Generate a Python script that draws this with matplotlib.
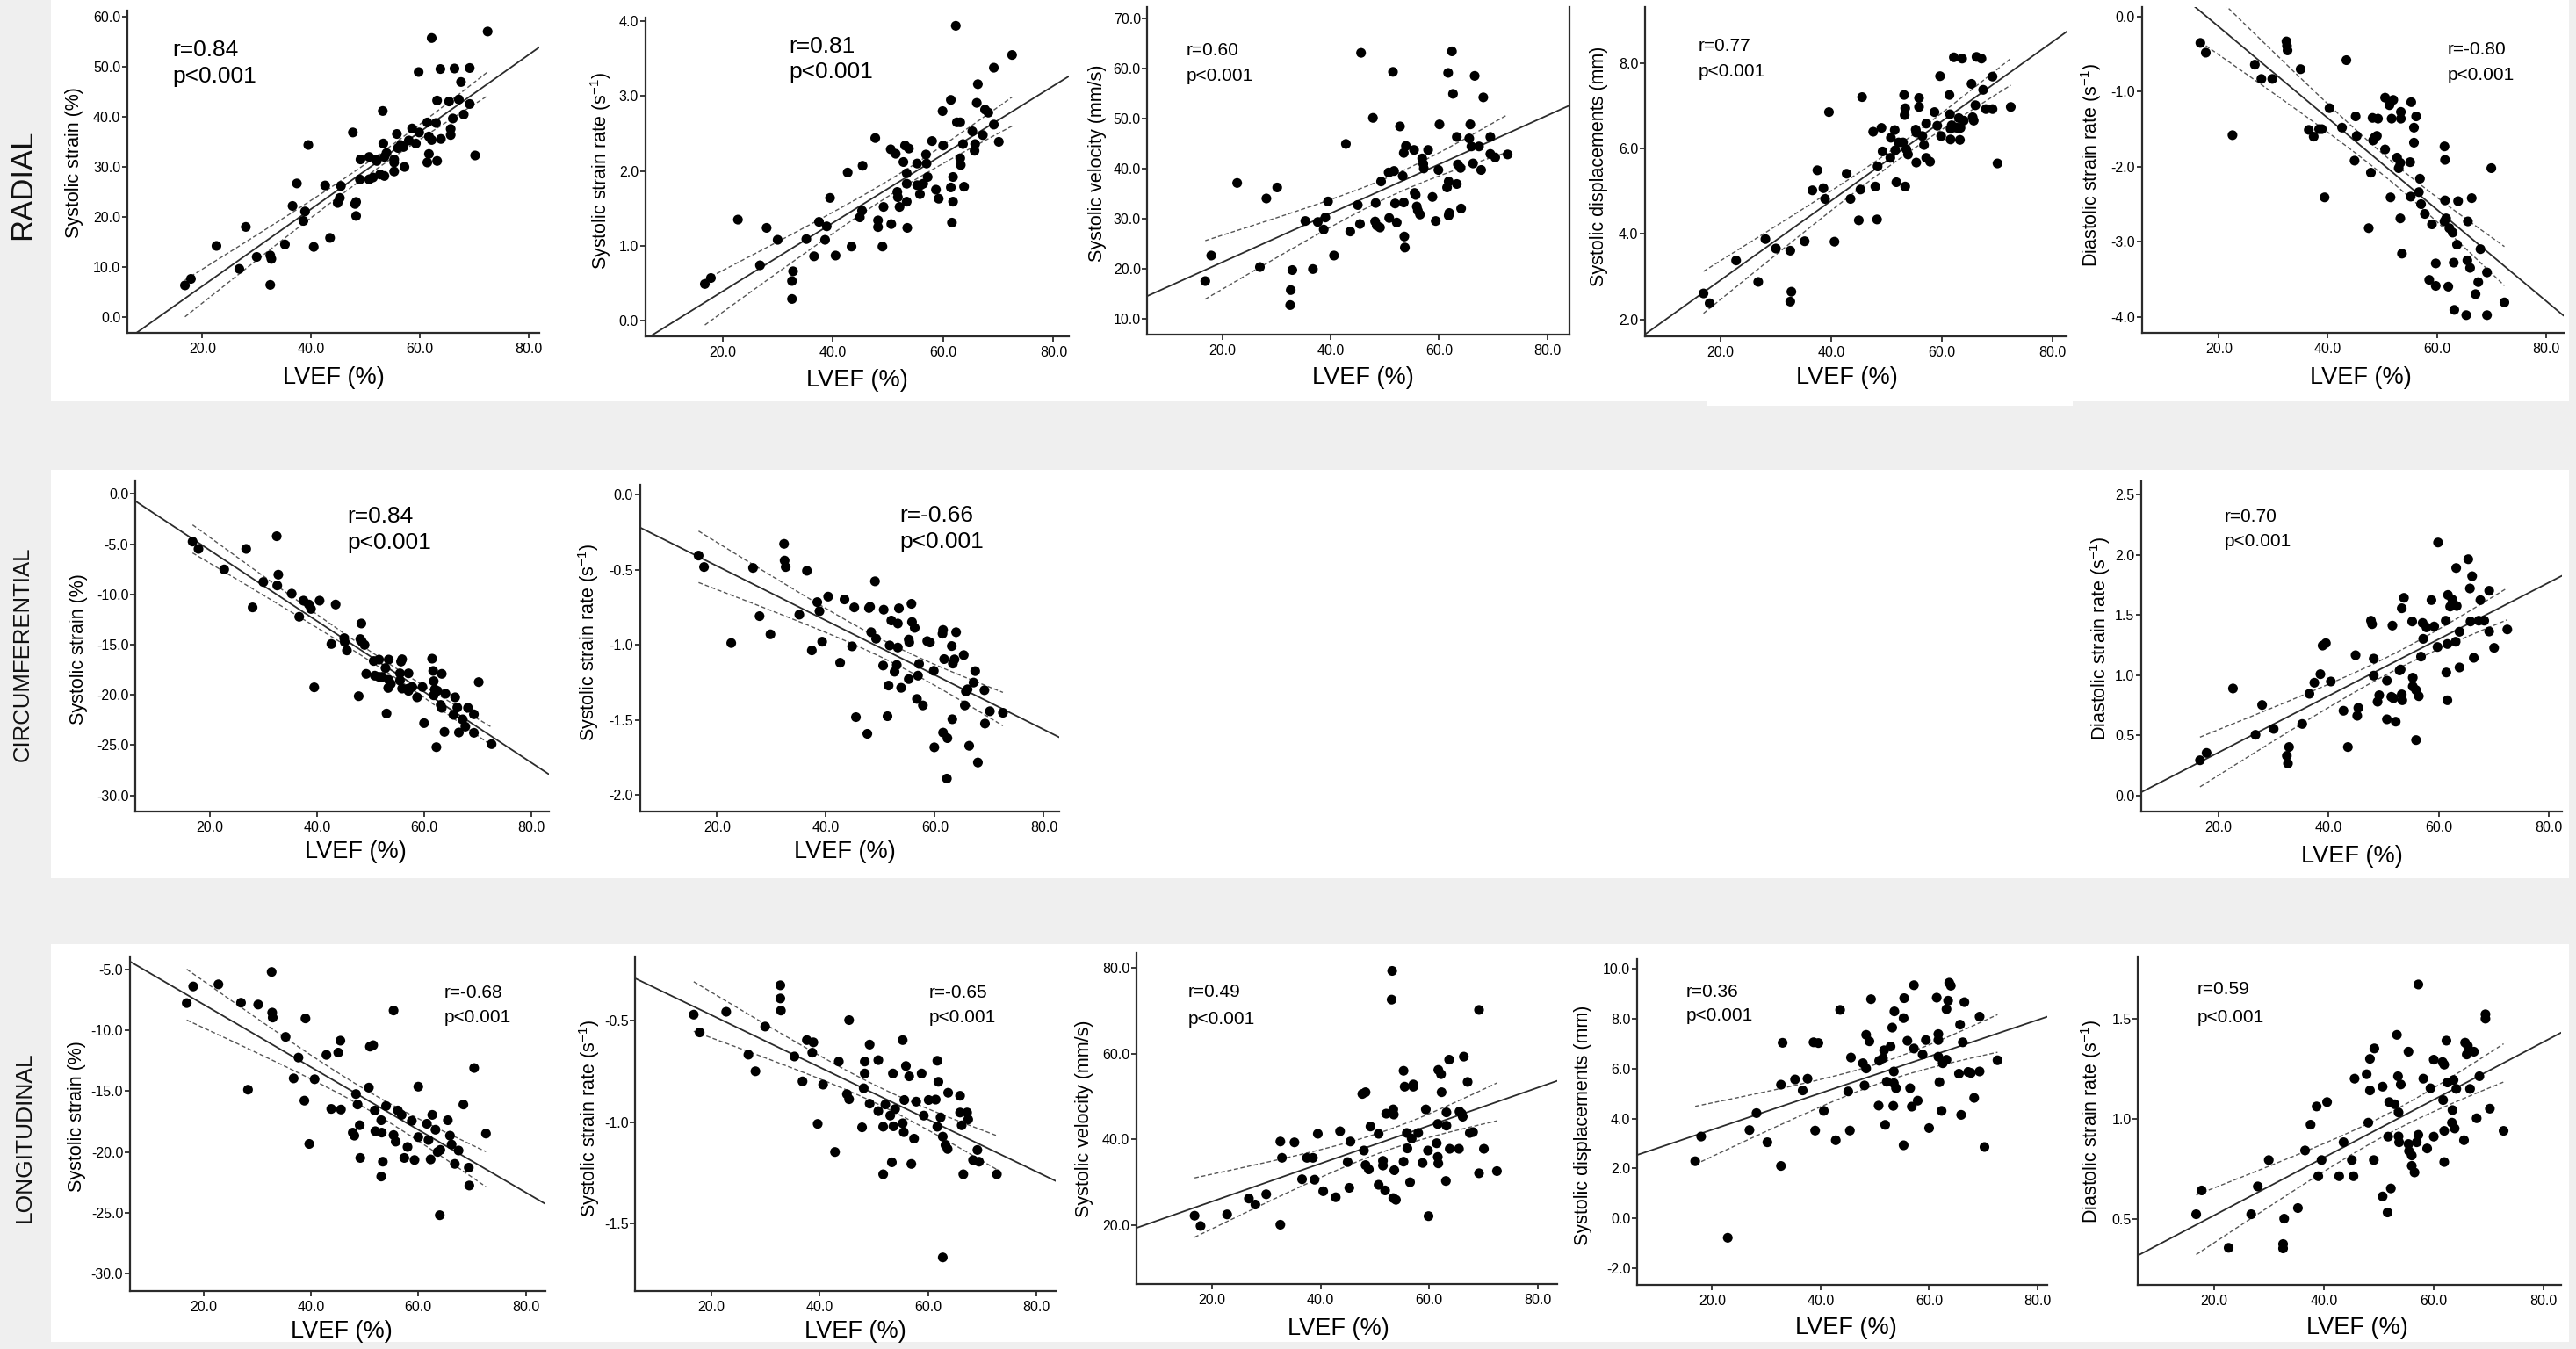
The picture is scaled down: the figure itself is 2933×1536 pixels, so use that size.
import matplotlib
matplotlib.use('Agg')
import matplotlib.pyplot as plt
import numpy as np
from matplotlib.patches import Rectangle
from matplotlib.ticker import FuncFormatter

plt.rcParams['font.family'] = ['Liberation Sans', 'DejaVu Sans']
plt.rcParams['mathtext.fontset'] = 'custom'
plt.rcParams['mathtext.rm'] = 'Liberation Sans'
plt.rcParams['mathtext.it'] = 'Liberation Sans:italic'

# ---------------- data (LVEF %, parameter) ----------------
rad_strain = [(16.8,6.3),(17.9,7.6),(22.6,14.2),(26.8,9.6),(28.0,18.0),(30.0,12.0),(32.5,12.3),(32.7,11.6),(32.5,6.4),(35.2,14.5),(36.6,22.2),(37.4,26.7),(38.9,21.1),(38.6,19.2),(39.5,34.4),(40.5,14.0),(42.6,26.3),(43.5,15.8),(44.9,22.8),(45.3,23.8),(45.5,26.2),(47.7,36.9),(48.3,23.0),(48.1,22.6),(48.3,20.2),(49.1,31.5),(49.0,27.5),(50.7,32.0),(50.7,27.5),(51.4,27.9),(51.9,31.5),(52.1,31.2),(52.7,28.5),(53.2,41.2),(53.3,34.7),(53.5,28.2),(53.5,32.0),(53.9,32.8),(55.3,29.1),(55.3,31.5),(55.3,30.9),(55.8,36.6),(56.0,33.8),(56.5,34.4),(57.0,34.0),(57.2,30.0),(58.0,35.3),(58.6,37.7),(59.3,34.7),(59.8,49.0),(59.9,36.9),(61.4,38.9),(61.4,30.9),(61.7,32.6),(61.7,36.1),(62.2,55.8),(62.2,35.4),(63.0,38.8),(63.2,43.3),(63.2,31.2),(63.8,49.6),(63.9,35.6),(65.4,43.1),(65.7,37.6),(65.7,36.4),(66.1,39.7),(66.4,49.7),(67.2,43.5),(67.6,47.0),(68.1,40.5),(69.2,49.8),(69.2,42.6),(70.2,32.3),(72.5,57.1)]

rad_srate = [(16.8,0.49),(17.9,0.57),(22.8,1.35),(26.8,0.74),(28.0,1.24),(30.0,1.08),(32.6,0.29),(32.6,0.53),(32.8,0.66),(35.2,1.09),(36.6,0.86),(37.5,1.32),(38.9,1.26),(38.6,1.08),(39.5,1.64),(40.5,0.87),(42.7,1.98),(43.4,0.99),(44.9,1.38),(45.3,1.47),(45.4,2.07),(47.7,2.44),(48.2,1.34),(48.2,1.25),(49.0,0.99),(49.2,1.52),(50.5,2.29),(50.6,1.29),(51.4,2.23),(51.7,1.72),(51.8,1.65),(52.1,1.52),(52.8,2.12),(53.1,2.34),(53.4,1.97),(53.4,1.83),(53.4,1.59),(53.5,1.24),(53.8,2.30),(55.3,2.10),(55.3,1.81),(55.8,1.69),(55.9,1.81),(56.4,1.83),(56.9,2.22),(57.0,2.10),(57.2,1.92),(58.0,2.40),(58.7,1.75),(59.2,1.63),(59.9,2.80),(60.0,2.34),(61.4,2.95),(61.4,1.78),(61.8,1.92),(61.8,1.59),(61.6,1.31),(62.3,3.94),(62.5,2.65),(63.1,2.65),(63.1,2.17),(63.2,2.08),(63.6,2.36),(63.8,1.79),(65.3,2.53),(65.7,2.27),(65.8,2.36),(66.1,2.91),(66.3,3.16),(67.2,2.48),(67.6,2.82),(68.2,2.78),(69.2,3.38),(69.2,2.62),(70.1,2.39),(72.5,3.55)]

rad_vel = [(16.8,17.5),(17.9,22.6),(22.7,37.1),(26.9,20.3),(28.1,34.0),(30.1,36.2),(32.5,12.7),(32.6,15.7),(32.9,19.7),(35.3,29.5),(36.7,19.9),(37.6,29.3),(38.7,27.8),(39.0,30.2),(39.5,33.4),(40.6,22.6),(42.8,44.9),(43.6,27.4),(45.0,32.7),(45.4,28.9),(45.6,63.1),(47.8,50.1),(48.3,33.1),(48.2,29.4),(48.5,28.6),(49.1,28.2),(49.3,37.4),(50.8,30.1),(50.7,39.2),(51.5,59.3),(51.7,39.5),(51.9,33.0),(52.2,29.2),(52.8,48.4),(53.3,38.5),(53.5,43.1),(53.5,33.2),(53.6,26.4),(53.7,24.2),(53.9,44.5),(55.4,43.7),(55.5,35.1),(55.7,34.7),(55.9,32.4),(56.1,31.6),(56.5,30.8),(56.9,42.0),(57.1,40.9),(57.2,40.0),(58.0,43.7),(58.8,34.3),(59.4,29.5),(59.9,39.7),(60.1,48.8),(61.5,36.2),(61.7,59.1),(61.8,37.4),(61.8,30.6),(61.9,31.1),(62.4,63.4),(62.6,54.9),(63.3,46.3),(63.3,36.9),(63.5,40.8),(64.0,40.1),(64.1,32.0),(65.6,46.0),(65.8,48.8),(66.0,44.4),(66.3,41.0),(66.6,58.5),(67.4,44.4),(67.8,39.7),(68.2,54.2),(69.5,46.3),(69.5,42.9),(70.4,42.2),(72.7,42.8)]

rad_disp = [(16.9,2.61),(18.0,2.38),(22.8,3.38),(26.8,2.88),(28.1,3.88),(30.0,3.66),(32.6,3.61),(32.8,2.65),(32.6,2.42),(35.2,3.83),(36.6,5.02),(37.5,5.49),(38.6,5.07),(38.9,4.82),(39.6,6.85),(40.6,3.82),(42.8,5.41),(43.5,4.82),(45.0,4.32),(45.3,5.04),(45.6,7.20),(47.6,6.39),(48.0,5.11),(48.4,5.58),(48.3,4.34),(49.1,6.48),(49.3,5.93),(50.7,5.78),(50.8,6.25),(51.5,6.43),(51.6,5.96),(51.8,5.21),(52.2,6.14),(53.0,6.14),(53.2,7.25),(53.3,6.78),(53.4,6.94),(53.4,5.11),(53.6,5.98),(53.9,5.86),(55.3,6.44),(55.4,6.37),(55.4,5.67),(55.9,7.18),(55.9,6.97),(56.5,6.29),(56.8,6.08),(57.2,6.58),(57.2,5.78),(57.9,5.69),(58.7,6.85),(59.2,6.53),(59.7,7.69),(59.9,6.29),(61.4,7.25),(61.5,6.80),(61.6,6.46),(61.6,6.21),(61.8,6.54),(62.2,8.13),(62.5,6.49),(62.9,6.48),(63.1,6.71),(63.3,6.20),(63.4,6.48),(63.7,8.10),(64.0,6.65),(65.4,7.51),(65.6,6.73),(65.8,6.65),(66.1,7.01),(66.3,8.14),(67.2,8.10),(67.5,7.37),(68.0,6.92),(69.2,7.68),(69.2,6.92),(70.1,5.65),(72.5,6.97)]

rad_dsr = [(16.6,-0.35),(17.6,-0.48),(22.5,-1.58),(26.6,-0.64),(27.8,-0.83),(29.8,-0.83),(32.4,-0.33),(32.5,-0.39),(32.6,-0.45),(35.0,-0.70),(36.5,-1.51),(37.4,-1.60),(38.4,-1.50),(38.9,-1.50),(39.4,-2.41),(40.3,-1.22),(42.6,-1.48),(43.4,-0.58),(44.9,-1.92),(45.1,-1.33),(45.3,-1.59),(47.5,-2.82),(47.9,-2.08),(48.2,-1.35),(48.3,-1.65),(48.6,-1.61),(49.0,-1.59),(49.2,-1.36),(50.5,-1.77),(50.5,-1.08),(51.3,-1.18),(51.5,-2.41),(51.7,-1.36),(52.0,-1.11),(52.7,-1.88),(53.0,-2.02),(53.3,-1.95),(53.3,-2.69),(53.4,-1.27),(53.4,-1.36),(53.6,-3.16),(55.1,-1.94),(55.2,-2.40),(55.3,-1.14),(55.8,-1.48),(55.8,-1.68),(56.2,-1.33),(56.7,-2.34),(56.9,-2.16),(57.1,-2.50),(57.8,-2.63),(58.6,-3.51),(59.1,-2.77),(59.8,-3.29),(59.8,-3.59),(61.4,-1.73),(61.5,-1.91),(61.4,-2.73),(61.5,-2.45),(61.7,-2.69),(62.1,-3.60),(62.3,-2.82),(62.9,-2.88),(63.1,-3.28),(63.2,-3.91),(63.7,-3.04),(63.9,-2.46),(65.4,-3.98),(65.6,-3.25),(65.7,-2.73),(66.1,-3.35),(66.4,-2.42),(67.1,-3.70),(67.6,-3.54),(68.0,-3.10),(69.2,-3.41),(69.2,-3.98),(70.0,-2.02),(72.4,-3.81)]

circ_strain = [(16.8,-4.75),(17.9,-5.48),(22.7,-7.52),(26.8,-5.48),(28.0,-11.30),(30.0,-8.77),(32.5,-4.22),(32.6,-9.12),(32.8,-8.04),(35.3,-9.93),(36.7,-12.23),(37.5,-10.63),(38.5,-11.01),(38.9,-11.45),(39.5,-19.25),(40.5,-10.63),(42.7,-14.94),(43.5,-11.01),(45.1,-14.36),(45.2,-14.74),(45.6,-15.58),(47.8,-20.13),(48.3,-12.90),(48.1,-14.45),(48.4,-14.71),(48.9,-15.03),(49.2,-17.91),(50.6,-16.63),(50.8,-18.09),(51.6,-16.49),(51.6,-18.21),(52.2,-18.21),(52.8,-17.33),(53.0,-21.85),(53.3,-19.31),(53.4,-16.49),(53.4,-18.50),(53.8,-18.90),(55.5,-17.86),(55.5,-18.58),(55.7,-16.69),(55.9,-16.46),(55.9,-19.37),(57.1,-19.37),(57.1,-17.86),(57.1,-19.60),(57.8,-19.22),(58.7,-20.24),(59.7,-19.22),(60.0,-22.81),(61.5,-16.40),(61.7,-17.62),(61.8,-18.64),(61.8,-20.04),(62.0,-19.46),(62.3,-25.20),(62.5,-19.60),(63.1,-21.00),(63.3,-17.91),(63.3,-21.29),(63.8,-23.68),(64.0,-19.89),(65.5,-21.99),(65.8,-20.24),(66.2,-21.26),(66.5,-23.74),(67.2,-22.43),(67.7,-23.16),(68.2,-21.29),(69.3,-21.93),(69.3,-23.77),(70.2,-18.73),(72.6,-24.90)]

circ_srate = [(16.6,-0.405),(17.6,-0.481),(22.6,-0.987),(26.6,-0.487),(27.8,-0.808),(29.8,-0.929),(32.3,-0.327),(32.4,-0.438),(32.6,-0.481),(35.1,-0.798),(36.5,-0.506),(37.4,-1.036),(38.4,-0.715),(38.8,-0.775),(39.3,-0.978),(40.4,-0.678),(42.6,-1.118),(43.4,-0.697),(44.8,-1.009),(45.2,-0.750),(45.5,-1.480),(47.6,-1.591),(47.9,-0.754),(48.1,-0.746),(48.3,-0.915),(49.0,-0.576),(49.2,-0.958),(50.5,-1.137),(50.6,-0.765),(51.3,-1.474),(51.5,-1.270),(51.7,-1.003),(52.0,-0.837),(52.6,-1.178),(53.0,-1.133),(53.2,-0.857),(53.2,-1.017),(53.4,-0.756),(53.8,-1.285),(55.2,-1.227),(55.2,-0.964),(55.3,-0.983),(55.7,-0.726),(55.8,-0.847),(56.3,-0.886),(56.7,-1.359),(56.9,-1.204),(57.1,-1.126),(57.8,-1.402),(58.6,-0.974),(59.1,-0.983),(59.8,-1.172),(59.9,-1.681),(61.4,-0.925),(61.5,-0.900),(61.5,-1.583),(61.7,-1.094),(62.3,-1.620),(62.2,-1.889),(63.1,-1.007),(63.2,-1.494),(63.3,-1.124),(63.6,-1.096),(63.9,-0.915),(65.3,-1.067),(65.5,-1.402),(65.7,-1.309),(66.0,-1.295),(66.3,-1.671),(67.1,-1.250),(67.4,-1.174),(67.9,-1.782),(69.1,-1.301),(69.2,-1.523),(70.1,-1.441),(72.5,-1.451)]

circ_dsr = [(16.6,0.292),(17.8,0.353),(22.6,0.889),(26.7,0.504),(27.9,0.752),(30.0,0.553),(32.4,0.329),(32.6,0.265),(32.8,0.402),(35.2,0.594),(36.5,0.845),(37.4,0.937),(38.5,1.008),(38.9,1.246),(39.5,1.266),(40.4,0.947),(42.7,0.704),(43.5,0.402),(44.9,1.166),(45.4,0.728),(45.2,0.662),(47.7,1.453),(47.9,1.424),(48.2,1.137),(48.2,0.996),(48.9,0.779),(49.2,0.833),(50.6,0.954),(50.6,0.633),(51.4,0.820),(51.6,1.412),(51.8,0.808),(52.2,0.613),(52.9,1.039),(53.1,1.047),(53.3,1.556),(53.3,0.840),(53.4,0.791),(53.7,1.643),(55.2,1.446),(55.3,0.979),(55.3,0.906),(55.9,0.460),(55.9,0.876),(56.4,0.825),(56.8,1.154),(57.1,1.434),(57.2,1.302),(57.8,1.397),(58.7,1.624),(59.2,1.405),(59.8,1.234),(59.9,2.103),(61.3,1.453),(61.4,1.022),(61.6,0.791),(61.6,1.259),(61.7,1.667),(62.1,1.570),(62.5,1.628),(63.1,1.278),(63.2,1.891),(63.3,1.575),(63.8,1.361),(63.8,1.064),(65.4,1.964),(65.7,1.721),(65.8,1.446),(66.1,1.823),(66.4,1.144),(67.3,1.453),(67.6,1.624),(68.3,1.453),(69.2,1.702),(69.2,1.363),(70.1,1.227),(72.5,1.380)]

long_strain = [(16.9,-7.76),(18.1,-6.39),(22.8,-6.22),(27.0,-7.73),(28.3,-14.88),(30.2,-7.88),(32.7,-5.20),(32.8,-8.54),(32.9,-8.95),(35.3,-10.54),(36.8,-13.95),(37.7,-12.24),(38.8,-15.78),(39.0,-9.02),(39.7,-19.34),(40.7,-14.02),(42.9,-12.02),(43.8,-16.46),(45.1,-11.83),(45.5,-10.85),(45.6,-16.51),(47.8,-18.41),(48.1,-18.66),(48.4,-15.24),(48.7,-16.10),(49.1,-17.80),(49.2,-20.49),(50.8,-14.71),(51.0,-11.34),(51.6,-11.22),(51.9,-16.59),(52.0,-18.29),(53.1,-17.39),(53.2,-18.41),(53.4,-20.80),(53.1,-22.02),(54.0,-16.22),(55.4,-8.37),(55.4,-18.61),(55.8,-19.15),(56.2,-16.59),(56.9,-16.95),(57.4,-20.49),(58.0,-19.59),(58.8,-17.44),(59.3,-20.66),(60.0,-14.63),(60.0,-18.78),(61.6,-17.68),(61.9,-19.02),(62.3,-20.61),(62.6,-16.95),(63.2,-18.17),(63.6,-20.00),(64.0,-25.20),(64.1,-19.83),(65.5,-17.39),(65.9,-18.66),(66.2,-19.39),(66.8,-20.98),(67.5,-19.88),(68.4,-16.10),(69.4,-21.29),(69.5,-22.76),(70.4,-13.10),(72.6,-18.49)]

long_srate = [(16.7,-0.469),(17.8,-0.557),(22.7,-0.455),(26.8,-0.667),(28.1,-0.749),(29.9,-0.528),(32.7,-0.324),(32.7,-0.389),(32.8,-0.449),(35.3,-0.676),(36.8,-0.799),(37.6,-0.595),(38.8,-0.606),(38.6,-0.657),(39.6,-1.009),(40.6,-0.815),(42.8,-1.148),(43.5,-0.701),(45.0,-0.862),(45.4,-0.887),(45.4,-0.496),(47.8,-1.026),(48.1,-0.833),(48.3,-0.760),(48.3,-0.701),(49.2,-0.909),(49.2,-0.617),(50.8,-0.694),(50.8,-0.946),(51.7,-1.023),(51.7,-1.258),(52.1,-0.913),(53.0,-0.968),(53.3,-1.199),(53.5,-0.760),(53.6,-1.021),(53.9,-0.936),(55.3,-0.595),(55.3,-1.006),(55.5,-1.050),(55.6,-0.891),(55.9,-0.723),(56.5,-0.774),(56.9,-1.207),(57.4,-1.082),(57.8,-0.899),(58.8,-0.760),(59.2,-0.968),(60.1,-0.891),(61.4,-0.889),(61.7,-1.023),(61.7,-0.697),(61.9,-0.801),(62.3,-0.977),(62.7,-1.669),(62.7,-1.072),(63.2,-1.114),(63.6,-1.133),(63.7,-0.855),(65.9,-0.870),(65.9,-0.953),(66.2,-1.016),(66.5,-1.258),(67.2,-0.953),(67.4,-0.987),(68.3,-1.188),(69.1,-1.138),(69.4,-1.196),(72.7,-1.258)]

long_vel = [(16.8,22.2),(17.9,19.8),(22.8,22.5),(26.8,26.2),(28.0,24.8),(30.0,27.2),(32.6,20.1),(32.6,39.5),(32.9,35.7),(35.2,39.3),(36.6,30.7),(37.5,35.7),(38.6,35.7),(38.9,30.6),(39.5,41.3),(40.5,27.9),(42.8,26.5),(43.6,41.9),(45.0,34.7),(45.3,28.7),(45.5,39.5),(47.7,50.6),(48.0,37.4),(48.3,51.0),(48.3,34.0),(48.9,33.0),(49.2,43.0),(50.7,29.4),(50.7,41.3),(51.5,35.0),(51.5,33.9),(51.9,28.1),(52.1,46.0),(53.1,72.6),(53.2,79.3),(53.4,47.0),(53.5,45.8),(53.6,32.8),(53.4,26.3),(53.9,25.9),(55.3,56.0),(55.5,52.3),(55.3,34.8),(55.9,41.5),(56.0,37.9),(56.5,30.0),(56.8,40.2),(57.1,52.8),(57.1,52.3),(58.0,41.5),(58.8,34.5),(59.4,47.0),(59.8,37.4),(59.9,22.1),(61.4,39.1),(61.6,43.6),(61.6,35.9),(61.7,34.4),(61.7,56.2),(62.2,55.2),(62.3,51.0),(63.1,30.3),(63.2,43.2),(63.2,46.3),(63.7,58.6),(63.8,37.8),(65.5,37.8),(65.6,46.5),(66.0,46.0),(66.2,45.3),(66.4,59.3),(67.1,53.4),(67.5,41.5),(68.1,41.7),(69.2,70.2),(69.2,32.1),(70.1,37.8),(72.5,32.6)]

long_disp = [(16.9,2.29),(18.0,3.28),(22.9,-0.78),(26.9,3.54),(28.2,4.22),(30.2,3.05),(32.7,5.36),(32.7,2.10),(33.0,7.04),(35.3,5.57),(36.7,5.13),(37.6,5.60),(38.7,7.06),(39.0,3.52),(39.6,7.03),(40.6,4.31),(42.8,3.13),(43.6,8.36),(45.1,5.09),(45.4,3.52),(45.6,6.45),(47.8,6.22),(48.1,5.33),(48.4,7.36),(48.4,6.01),(49.0,7.10),(49.3,8.79),(50.7,4.52),(50.8,6.32),(51.5,6.42),(51.7,6.74),(51.9,3.75),(52.2,5.48),(52.9,6.89),(53.2,7.65),(53.4,4.51),(53.5,5.89),(53.6,8.30),(53.5,5.42),(53.9,5.22),(55.3,2.93),(55.3,8.03),(55.4,8.83),(56.0,7.12),(56.5,5.22),(56.8,4.48),(57.2,6.81),(57.2,9.35),(57.9,4.72),(58.8,6.57),(59.4,7.15),(60.0,3.62),(61.4,8.85),(61.7,6.48),(61.7,7.39),(61.7,7.15),(61.9,5.46),(62.3,4.31),(62.5,6.22),(63.2,8.39),(63.2,6.36),(63.5,8.73),(63.7,9.45),(64.0,9.33),(65.5,5.80),(65.7,7.77),(65.9,4.15),(66.2,7.06),(66.5,8.67),(67.2,5.87),(67.7,5.83),(68.3,4.83),(69.3,5.89),(69.3,8.09),(70.2,2.86),(72.6,6.34)]

long_dsr = [(16.8,0.522),(17.8,0.641),(22.7,0.354),(26.8,0.522),(28.0,0.661),(30.0,0.793),(32.6,0.373),(32.6,0.351),(32.8,0.500),(35.3,0.553),(36.6,0.841),(37.6,0.970),(38.7,1.061),(39.0,0.712),(39.6,0.793),(40.6,1.083),(42.8,0.712),(43.6,0.882),(45.1,0.793),(45.4,0.712),(45.6,1.200),(47.8,1.222),(48.1,0.980),(48.4,1.299),(48.4,1.141),(49.1,0.793),(49.2,1.351),(50.7,0.611),(50.7,1.160),(51.6,0.531),(51.7,0.910),(51.9,1.083),(52.2,0.651),(52.9,1.072),(53.3,1.419),(53.5,1.212),(53.6,1.031),(53.6,0.911),(53.7,0.882),(54.0,1.171),(55.4,1.335),(55.4,0.873),(55.5,0.838),(56.0,0.816),(56.0,0.764),(56.5,0.731),(56.9,0.882),(57.2,0.919),(57.2,1.671),(58.1,1.200),(58.8,0.851),(59.4,1.152),(60.0,1.295),(60.0,0.910),(61.6,1.283),(61.7,1.093),(61.9,1.270),(61.9,0.939),(61.9,0.783),(62.3,1.390),(62.5,1.181),(63.3,0.980),(63.4,1.043),(63.6,1.193),(63.8,0.951),(64.1,1.149),(65.5,0.892),(65.7,1.380),(66.0,1.321),(66.2,1.364),(66.6,1.149),(67.3,1.335),(67.8,1.002),(68.3,1.212),(69.4,1.522),(69.4,1.500),(70.2,1.050),(72.7,0.939)]

row_labels = ['RADIAL', 'CIRCUMFERENTIAL', 'LONGITUDINAL']
x_ticks = [20, 40, 60, 80]
x_label = 'LVEF (%)'

SR = 'rate (s$^{-1}$)'
panels = [
    dict(data=rad_strain, ylabel='Systolic strain (%)', r='r=0.84', yt=[0, 10, 20, 30, 40, 50, 60]),
    dict(data=rad_srate, ylabel='Systolic strain ' + SR, r='r=0.81', yt=[0, 1, 2, 3, 4]),
    dict(data=rad_vel, ylabel='Systolic velocity (mm/s)', r='r=0.60', yt=[10, 20, 30, 40, 50, 60, 70]),
    dict(data=rad_disp, ylabel='Systolic displacements (mm)', r='r=0.77', yt=[2, 4, 6, 8]),
    dict(data=rad_dsr, ylabel='Diastolic strain ' + SR, r='r=-0.80', yt=[0, -1, -2, -3, -4]),
    dict(data=circ_strain, ylabel='Systolic strain (%)', r='r=0.84', yt=[0, -5, -10, -15, -20, -25, -30]),
    dict(data=circ_srate, ylabel='Systolic strain ' + SR, r='r=-0.66', yt=[0, -0.5, -1.0, -1.5, -2.0]),
    dict(data=circ_dsr, ylabel='Diastolic strain ' + SR, r='r=0.70', yt=[0, 0.5, 1.0, 1.5, 2.0, 2.5]),
    dict(data=long_strain, ylabel='Systolic strain (%)', r='r=-0.68', yt=[-5, -10, -15, -20, -25, -30]),
    dict(data=long_srate, ylabel='Systolic strain ' + SR, r='r=-0.65', yt=[-0.5, -1.0, -1.5]),
    dict(data=long_vel, ylabel='Systolic velocity (mm/s)', r='r=0.49', yt=[20, 40, 60, 80]),
    dict(data=long_disp, ylabel='Systolic displacements (mm)', r='r=0.36', yt=[-2, 0, 2, 4, 6, 8, 10]),
    dict(data=long_dsr, ylabel='Diastolic strain ' + SR, r='r=0.59', yt=[0.5, 1.0, 1.5]),
]
p_text = 'p<0.001'

# ---------------- layout (pixel geometry of the reference) ----------------
W, H = 2933, 1536
BIG, MED = 19, 15
layout = [
    ((145, 12, 614, 379), (6.2, 82), (-3.2, 61.3), 0.109, 0.877, 0.796, BIG, (-0.128, 0.529), (0.5, -0.139), False),
    ((734.7, 20, 1217, 383), (6.0, 82.8), (-0.21, 4.05), 0.340, 0.908, 0.830, BIG, (-0.106, 0.52), (0.5, -0.138), False),
    ((1306.4, 8.3, 1786.8, 381), (6.1, 84.1), (6.8, 72.2), 0.093, 0.869, 0.791, MED, (-0.119, 0.523), (0.51, -0.131), True),
    ((1872.9, 8.3, 2353, 383.3), (6.3, 82.6), (1.6, 9.3), 0.127, 0.882, 0.806, MED, (-0.110, 0.518), (0.48, -0.125), False),
    ((2438.6, 8.3, 2918.5, 379.3), (5.85, 83.2), (-4.22, 0.125), 0.725, 0.871, 0.793, MED, (-0.119, 0.516), (0.52, -0.137), False),
    ((154, 546.7, 625, 924), (6.1, 83.3), (-31.6, 1.36), 0.513, 0.890, 0.810, BIG, (-0.138, 0.49), (0.533, -0.122), False),
    ((728.7, 551.7, 1206.4, 924.3), (5.84, 82.9), (-2.11, 0.068), 0.618, 0.906, 0.826, BIG, (-0.123, 0.519), (0.488, -0.123), False),
    ((2437.9, 548.3, 2917.4, 924), (5.9, 82.5), (-0.134, 2.61), 0.197, 0.894, 0.818, MED, (-0.098, 0.524), (0.5, -0.136), False),
    ((147.8, 1088.7, 620.6, 1469.5), (6.3, 83.6), (-31.4, -3.9), 0.757, 0.889, 0.818, MED, (-0.128, 0.52), (0.51, -0.122), False),
    ((723.3, 1088.7, 1201.6, 1469.5), (5.9, 83.5), (-1.833, -0.18), 0.699, 0.889, 0.818, MED, (-0.110, 0.514), (0.524, -0.122), False),
    ((1294, 1085, 1773, 1462.3), (6.1, 83.6), (6.2, 83.5), 0.122, 0.883, 0.801, MED, (-0.125, 0.5), (0.48, -0.134), False),
    ((1864, 1091.7, 2331.2, 1462.7), (6.2, 81.8), (-2.66, 10.41), 0.119, 0.897, 0.825, MED, (-0.131, 0.49), (0.51, -0.132), False),
    ((2434.2, 1089.3, 2916.3, 1462.7), (6.2, 83.2), (0.17, 1.81), 0.140, 0.900, 0.815, MED, (-0.110, 0.497), (0.518, -0.131), False),
]

fig = plt.figure(figsize=(W / 100, H / 100), dpi=100, facecolor='#efefef')

for (x0, y0, x1, y1) in [(58, 0, 2925, 457), (1944, 450, 2360, 462), (58, 535, 2925, 1000), (58, 1075, 2925, 1528)]:
    fig.patches.append(Rectangle((x0 / W, 1 - y1 / H), (x1 - x0) / W, (y1 - y0) / H,
                                 transform=fig.transFigure, facecolor='white',
                                 edgecolor='none', zorder=-5))

row_pos = [(25.5, 210, 25), (26, 745, 18.5), (28, 1295, 19)]
for lab, (px, py, fs) in zip(row_labels, row_pos):
    fig.text(px / W, 1 - py / H, lab, rotation=90, ha='center', va='center',
             fontsize=fs, color='#111', zorder=5)

fmt = FuncFormatter(lambda v, pos: f'{v:.1f}')
LINE = '#2b2b2b'

for spec, lay in zip(panels, layout):
    (x0, yt, x1, yb), xlim, ylim, tx, ry, py, tfs, ylpos, xlpos, rsp = lay
    ax = fig.add_axes([x0 / W, 1 - yb / H, (x1 - x0) / W, (yb - yt) / H])
    ax.set_zorder(2)
    ax.patch.set_visible(False)
    pts = np.array(spec['data'], dtype=float)
    x, y = pts[:, 0], pts[:, 1]
    ax.scatter(x, y, s=64, c='black', edgecolors='none', zorder=3)

    # least squares fit with 95% CI of the mean
    b, a = np.polyfit(x, y, 1)
    n = len(x)
    xm = x.mean()
    sxx = ((x - xm) ** 2).sum()
    s = np.sqrt(((y - (a + b * x)) ** 2).sum() / (n - 2))
    xl = np.linspace(xlim[0], xlim[1], 200)
    ax.plot(xl, a + b * xl, color=LINE, lw=1.3, zorder=2)
    xc = np.linspace(x.min(), x.max(), 200)
    se = 1.99 * s * np.sqrt(1 / n + (xc - xm) ** 2 / sxx)
    for sign in (1, -1):
        ax.plot(xc, a + b * xc + sign * se, color='#555555', lw=1.0,
                ls=(0, (3.5, 2)), zorder=2)

    ax.set_xlim(*xlim)
    ax.set_ylim(*ylim)
    ax.set_xticks(x_ticks)
    ax.set_yticks(spec['yt'])
    ax.xaxis.set_major_formatter(fmt)
    ax.yaxis.set_major_formatter(fmt)
    ax.spines['top'].set_visible(False)
    ax.spines['right'].set_visible(rsp)
    for side in ('left', 'bottom', 'right'):
        ax.spines[side].set_linewidth(1.6)
        ax.spines[side].set_color(LINE)
    ax.tick_params(axis='y', direction='out', length=4.5, width=1.3, pad=1.0,
                   labelsize=11.5, color=LINE, labelcolor='black')
    ax.tick_params(axis='x', direction='out', length=4, width=1.3, pad=4.0,
                   labelsize=11.5, color=LINE, labelcolor='black')

    ax.text(tx, ry, spec['r'], transform=ax.transAxes, ha='left', va='center',
            fontsize=tfs, color='black')
    ax.text(tx, py, p_text, transform=ax.transAxes, ha='left', va='center',
            fontsize=tfs, color='black')
    ax.text(ylpos[0], ylpos[1], spec['ylabel'], transform=ax.transAxes,
            rotation=90, ha='center', va='center', fontsize=15.5, color='black')
    ax.text(xlpos[0], xlpos[1], x_label, transform=ax.transAxes,
            ha='center', va='center', fontsize=19.5, color='black')

fig.savefig('out.png', dpi=100, facecolor=fig.get_facecolor())
